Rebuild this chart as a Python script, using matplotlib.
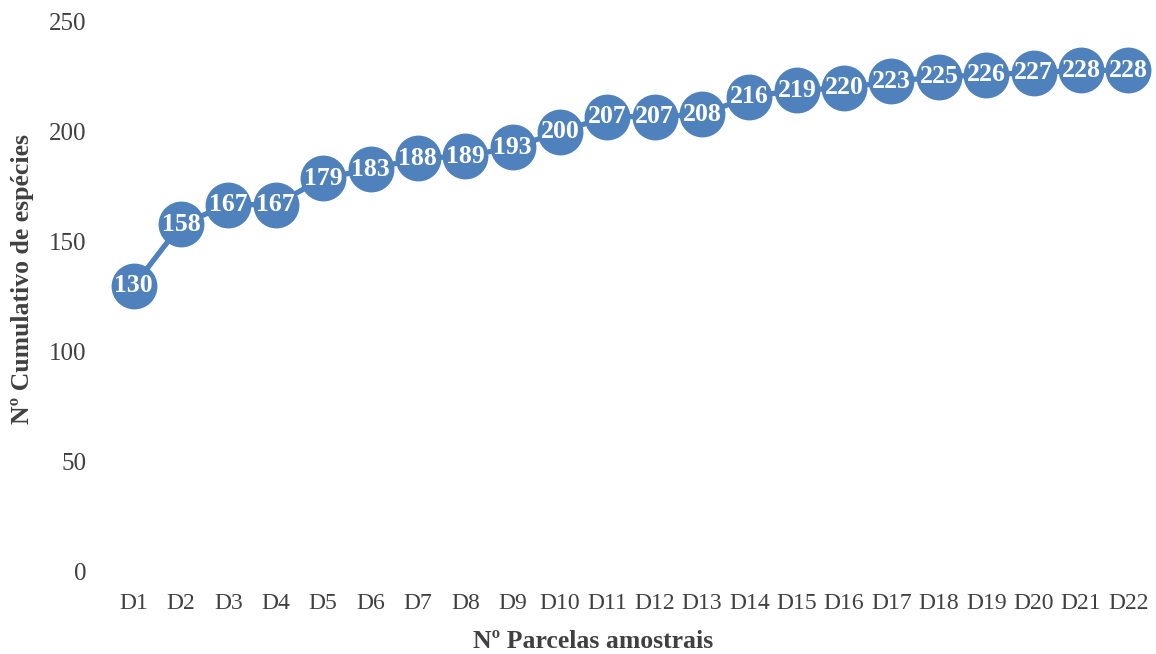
import matplotlib.pyplot as plt

parcelas = ['D%d' % i for i in range(1, 23)]
especies = [130, 158, 167, 167, 179, 183, 188, 189, 193, 200, 207,
            207, 208, 216, 219, 220, 223, 225, 226, 227, 228, 228]
y_ticks = [0, 50, 100, 150, 200, 250]

azul = '#4F81BD'
cinza = '#404040'

plt.rcParams['font.family'] = ['Liberation Serif', 'DejaVu Serif']

fig = plt.figure(figsize=(11.56, 6.54), dpi=100)
ax = fig.add_axes([0.0952, 0.1254, 0.9013, 0.841])

x = list(range(len(parcelas)))
ax.plot(x, especies, color=azul, lw=3.8, marker='o', ms=32,
        markerfacecolor=azul, markeredgecolor=azul, solid_capstyle='round')

# rótulos de dados dentro dos marcadores
for xi, v in zip(x, especies):
    ax.text(xi, v, str(v), ha='center', va='center', color='white',
            fontsize=18.5, fontweight='bold')

ax.set_xlim(-0.5, len(parcelas) - 0.5)
ax.set_ylim(0, 250)
ax.set_xticks(x)
ax.set_xticklabels(parcelas)
ax.set_yticks(y_ticks)
ax.tick_params(length=0, colors=cinza)
ax.tick_params(axis='x', pad=15, labelsize=17)
ax.tick_params(axis='y', pad=17, labelsize=18)
for s in ax.spines.values():
    s.set_visible(False)

ax.set_xlabel('Nº Parcelas amostrais', fontsize=18.5, fontweight='bold',
              color=cinza)
ax.set_ylabel('Nº Cumulativo de espécies', fontsize=18.5, fontweight='bold',
              color=cinza)
ax.xaxis.set_label_coords(0.4635, -0.105)
ax.yaxis.set_label_coords(-0.073, 0.533)

fig.savefig('out.png', dpi=100)
